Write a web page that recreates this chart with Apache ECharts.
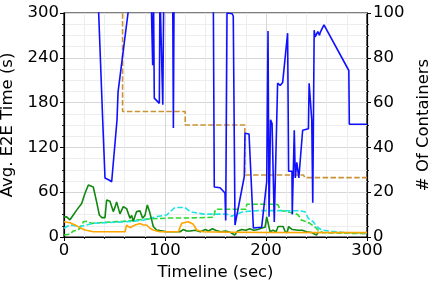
<!DOCTYPE html>
<html>
<head>
<meta charset="utf-8">
<script src="https://cdn.jsdelivr.net/npm/echarts@6/dist/echarts.min.js"></script>
<style>
html,body{margin:0;padding:0;background:#fff;}
#c{width:432px;height:287px;}
</style>
</head>
<body>
<div id="c"></div>
<script>
// x tick labels / axis ranges
const xTicks = [0, 100, 200, 300];
const leftTicks = [0, 60, 120, 180, 240, 300];
const rightTicks = [0, 20, 40, 60, 80, 100];

// Avg. E2E time (s) - blue, left axis  [time, value]
const blueE2E = [[0,450],[33.5,330],[38.3,157],[40.6,79],[45,76],[47.2,74],[48.5,72],[52.5,157],[53.5,194],[63.4,300],[70,400],
  [85,400],[87.8,230],[88.6,330],[89.4,186],[94.4,179],[95,330],[97.8,177],[98.8,330],[107.6,330],[108.3,146],[109,330],
  [147.8,330],[148.8,67],[154.5,66],[159.4,59],[160.1,22],[161.4,300],[166.5,299],[167.6,296],[169.3,16],[178.5,81],
  [179.2,139],[183.2,138],[187.5,12],[195.7,13],[197.3,14],[200.7,74],[202,276],[203,27],[204.5,157],[206,152],
  [208.2,20],[211.5,206],[214,203],[216.5,207],[218.4,209],[221.4,273],[222.4,88],[225.7,88],[226,30],[228,143],
  [229,79],[230.5,100],[232.5,79],[236.3,143],[242,145],[242.7,206],[245.3,157],[246.3,46],[247.7,277],[248.7,268],
  [251.3,275],[253,270],[253.7,274],[257.4,284],[282,223],[282.5,151],[300,151]];

// dark green solid, left axis
const greenE2E = [[0,27],[2.6,27],[5.9,23],[9.2,29.5],[12.5,36],[14.2,37.5],[17.5,45],[20.8,58.5],[24.1,69.6],[25.1,70.5],
  [29,67],[32.3,47],[35,29.5],[37.3,26],[40.6,26],[42.2,49.5],[45.5,48],[47.2,49.5],[48.8,34],[50.5,40],[52.1,47],
  [55.4,31],[58.7,40.6],[62,38],[65.3,25],[67,29],[68.6,21],[71.9,34],[73.5,32],[75.2,35],[77.9,25],[80.2,29],
  [82.5,43],[85.1,32],[88.4,14],[91.7,9.4],[95,8.5],[101.7,7],[108.3,7],[114.9,7],[118,10],[121.5,8],
  [125,8],[130,9],[135,7],[140,10],[143,8],[147,11],[150,9],[155,7],[160,8],[165,6],[169,2.7],[172,8],[176,10],
  [180,9],[184,11],[188,9],[192,10],[196,12],[199,13],[200.7,27],[202.5,27],[204,7],[207,9],[210,7],[212,14],
  [217,14],[219,7],[221,6],[222.4,14],[226,10],[232,9],[236,9],[240,7],[245,6],[250,2.7],[252,7]];

// orange solid, left axis
const orangeE2E = [[0,20.5],[5.9,19],[10.9,16],[15.8,12.5],[20.8,9.4],[25.7,8],[29,7],[45.5,7],[60.4,7],[62,16],[63.7,18],
  [65.3,12.5],[67,10.5],[70.3,16],[71.9,18.3],[75.2,18],[78.5,16],[80.2,14],[81.8,16],[85.1,11.6],[88.4,9.4],
  [91.7,8],[95,7],[113.2,7],[116.5,18.3],[123,20.5],[128,17],[131.4,9.4],[138,7],[161,6.5],[200,6],[300,5.8]];

// cyan dashed, right axis (# of containers)
const cyanCont = [[0,3.9],[5.9,5.4],[15.8,4.6],[29,6.1],[45.5,6.5],[62,6.8],[78.5,7.5],[91.7,9.1],[101.7,9.8],
  [105,11.3],[110,13.2],[119.8,13.2],[124.8,11.3],[138,10.2],[161,10.2],[166,9.3],[177.5,11.3],[194,11.8],
  [231.7,11.7],[238.6,11.3],[241.9,8.3],[246.8,6.8],[250.2,4.6],[255.1,3.1],[265,2.5],[281.5,1.9],[300,1.9]];

// light green dashed, right axis
const limeCont = [[0,0.9],[5.9,1.3],[9.2,2.7],[14.2,3.1],[17.5,5.4],[19.1,6.8],[22.4,7],[27.4,6.1],[38.9,6.5],
  [62,7.1],[81.8,8],[104.9,8.5],[125,8.5],[148,8.8],[150,12.4],[180,12.4],[181,14.6],[210,14.6],[212,14.3],
  [214,12],[220,11.3],[228.4,10.6],[232,9.8],[235,7.6],[240,6.8],[243.3,6.1],[248.2,4.6],[251.5,3.1],[256.5,1.9],[300,1.5]];

// goldenrod dashed step, right axis
const goldCont = [[0,102],[58,102],[58,56],[120,56],[120,50],[179,50],[179,27.7],[237,27.7],[238.5,26.5],[300,26.5]];

const FONT = 'DejaVu Sans';
const FS = 16.5;
const chart = echarts.init(document.getElementById('c'), null, {renderer:'canvas'});
const txt = {color:'#000', fontFamily:FONT, fontSize:FS, fontWeight:'normal'};
const axisCommon = {
  axisLine:{show:true, lineStyle:{color:'#000', width:1.2}},
  axisTick:{show:true, length:4, lineStyle:{color:'#000', width:1}},
  nameTextStyle:txt,
  nameLocation:'middle'
};
chart.setOption({
  animation:false,
  backgroundColor:'#fff',
  grid:{left:64, right:65, top:13, bottom:50, containLabel:false, outerBoundsMode:'none',
        show:true, borderColor:'#000', borderWidth:1.2, backgroundColor:'transparent'},
  xAxis:Object.assign({}, axisCommon, {
    type:'value', min:xTicks[0], max:xTicks[xTicks.length-1], interval:100,
    name:'Timeline (sec)', nameGap:26,
    minorTick:{show:true, splitNumber:5, length:2, lineStyle:{color:'#000', width:0.8}},
    axisLabel:Object.assign({margin:5}, txt),
    splitLine:{show:true, lineStyle:{color:'#d6d6d6', width:1}},
    minorSplitLine:{show:true, lineStyle:{color:'#ededed', width:1}}
  }),
  yAxis:[
    Object.assign({}, axisCommon, {
      type:'value', position:'left', min:leftTicks[0], max:leftTicks[leftTicks.length-1], interval:60,
      name:'Avg. E2E Time (s)', nameGap:39,
      minorTick:{show:true, splitNumber:4, length:2, lineStyle:{color:'#000', width:0.8}},
      axisLabel:Object.assign({margin:5}, txt),
      splitLine:{show:true, lineStyle:{color:'#d6d6d6', width:1}},
      minorSplitLine:{show:true, lineStyle:{color:'#ededed', width:1}}
    }),
    Object.assign({}, axisCommon, {
      type:'value', position:'right', min:rightTicks[0], max:rightTicks[rightTicks.length-1], interval:20,
      name:'# Of Containers', nameGap:44,
      minorTick:{show:true, splitNumber:4, length:2, lineStyle:{color:'#000', width:0.8}},
      axisLabel:Object.assign({margin:6}, txt),
      splitLine:{show:false}
    })
  ],
  series:[
    {type:'line', yAxisIndex:1, data:goldCont, symbol:'none', lineStyle:{color:'#cc9233', width:1.6, type:[5.5,2.4]}, z:2},
    {type:'line', yAxisIndex:1, data:limeCont, symbol:'none', lineStyle:{color:'#2fd62f', width:1.6, type:[5.5,2.4]}, z:2},
    {type:'line', yAxisIndex:1, data:cyanCont, symbol:'none', lineStyle:{color:'#1fe3e3', width:1.6, type:[5.5,2.4]}, z:2},
    {type:'line', yAxisIndex:0, data:greenE2E, symbol:'none', lineStyle:{color:'#118811', width:1.6}, z:3},
    {type:'line', yAxisIndex:0, data:orangeE2E, symbol:'none', lineStyle:{color:'#ffa500', width:1.6}, z:3},
    {type:'line', yAxisIndex:0, data:blueE2E, symbol:'none', lineStyle:{color:'#1010ff', width:1.6}, z:4}
  ]
});
</script>
</body>
</html>
